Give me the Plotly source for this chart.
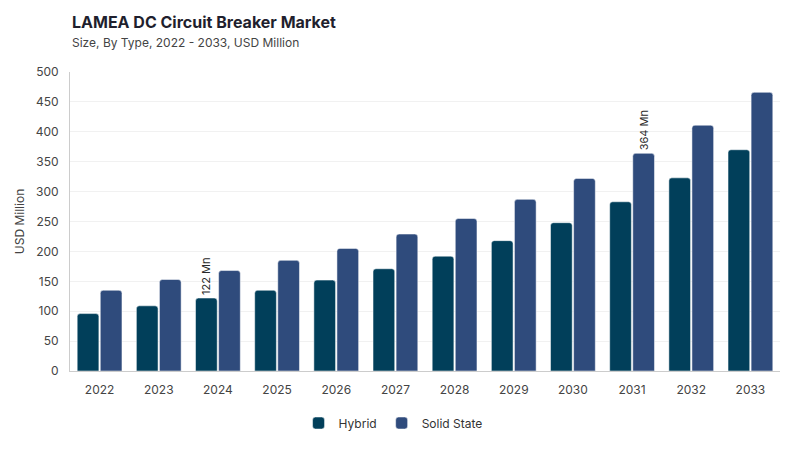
import plotly.graph_objects as go

years = ["2022", "2023", "2024", "2025", "2026", "2027",
         "2028", "2029", "2030", "2031", "2032", "2033"]
hybrid = [96, 109, 122, 135, 152, 171, 192, 218, 248, 283, 323, 370]
solid_state = [135, 153, 168, 185, 205, 229, 255, 287, 322, 364, 411, 466]

# only a couple of bars carry a value label
hybrid_text = ["122 Mn" if y == "2024" else "" for y in years]
solid_text = ["364 Mn" if y == "2031" else "" for y in years]

font = "Inter, Roboto, sans-serif"

fig = go.Figure()
fig.add_trace(go.Bar(
    x=years, y=hybrid, name="Hybrid",
    marker=dict(color="#013f5a", cornerradius=3,
                line=dict(color="#ffffff", width=0.5)),
    text=hybrid_text, textposition="outside", textangle=-90,
    textfont=dict(size=11, color="#2a2a2a"), cliponaxis=False,
))
fig.add_trace(go.Bar(
    x=years, y=solid_state, name="Solid State",
    marker=dict(color="#2f4b7c", cornerradius=3,
                line=dict(color="#ffffff", width=0.5)),
    text=solid_text, textposition="outside", textangle=-90,
    textfont=dict(size=11, color="#2a2a2a"), cliponaxis=False,
))

fig.update_layout(
    width=800, height=450,
    barmode="group", bargap=0.22, bargroupgap=0.06,
    plot_bgcolor="white", paper_bgcolor="white",
    font=dict(family=font, color="#444444", size=12),
    margin=dict(l=62, r=28, t=64, b=87),
    legend=dict(orientation="h", x=0.455, xanchor="center", y=-0.174, yanchor="middle",
                font=dict(size=12, color="#333333"), itemwidth=30,
                tracegroupgap=0),
    uniformtext=dict(minsize=8, mode="show"),
)
fig.add_annotation(
    text="<b>LAMEA DC Circuit Breaker Market</b>",
    xref="paper", yref="paper", x=0.0, y=1.167,
    xanchor="left", yanchor="middle", showarrow=False,
    font=dict(size=16, color="#1f1f2e"),
)
fig.add_annotation(
    text="Size, By Type, 2022 - 2033, USD Million",
    xref="paper", yref="paper", x=0.0, y=1.100,
    xanchor="left", yanchor="middle", showarrow=False,
    font=dict(size=12, color="#444444"),
)
fig.update_yaxes(
    range=[0, 500], dtick=50, showgrid=True, gridcolor="#f1f1f1",
    showline=True, linecolor="#cccccc", zeroline=False, automargin=False,
    title=dict(text="USD Million", font=dict(size=12, color="#444444"), standoff=8),
    tickfont=dict(size=12, color="#444444"), ticks="", ticklabelstandoff=8,
)
fig.update_xaxes(
    showline=True, linecolor="#cccccc", showgrid=False, automargin=False,
    tickfont=dict(size=12, color="#444444"), ticks="", ticklabelstandoff=8,
)

fig.write_html("out.html")
